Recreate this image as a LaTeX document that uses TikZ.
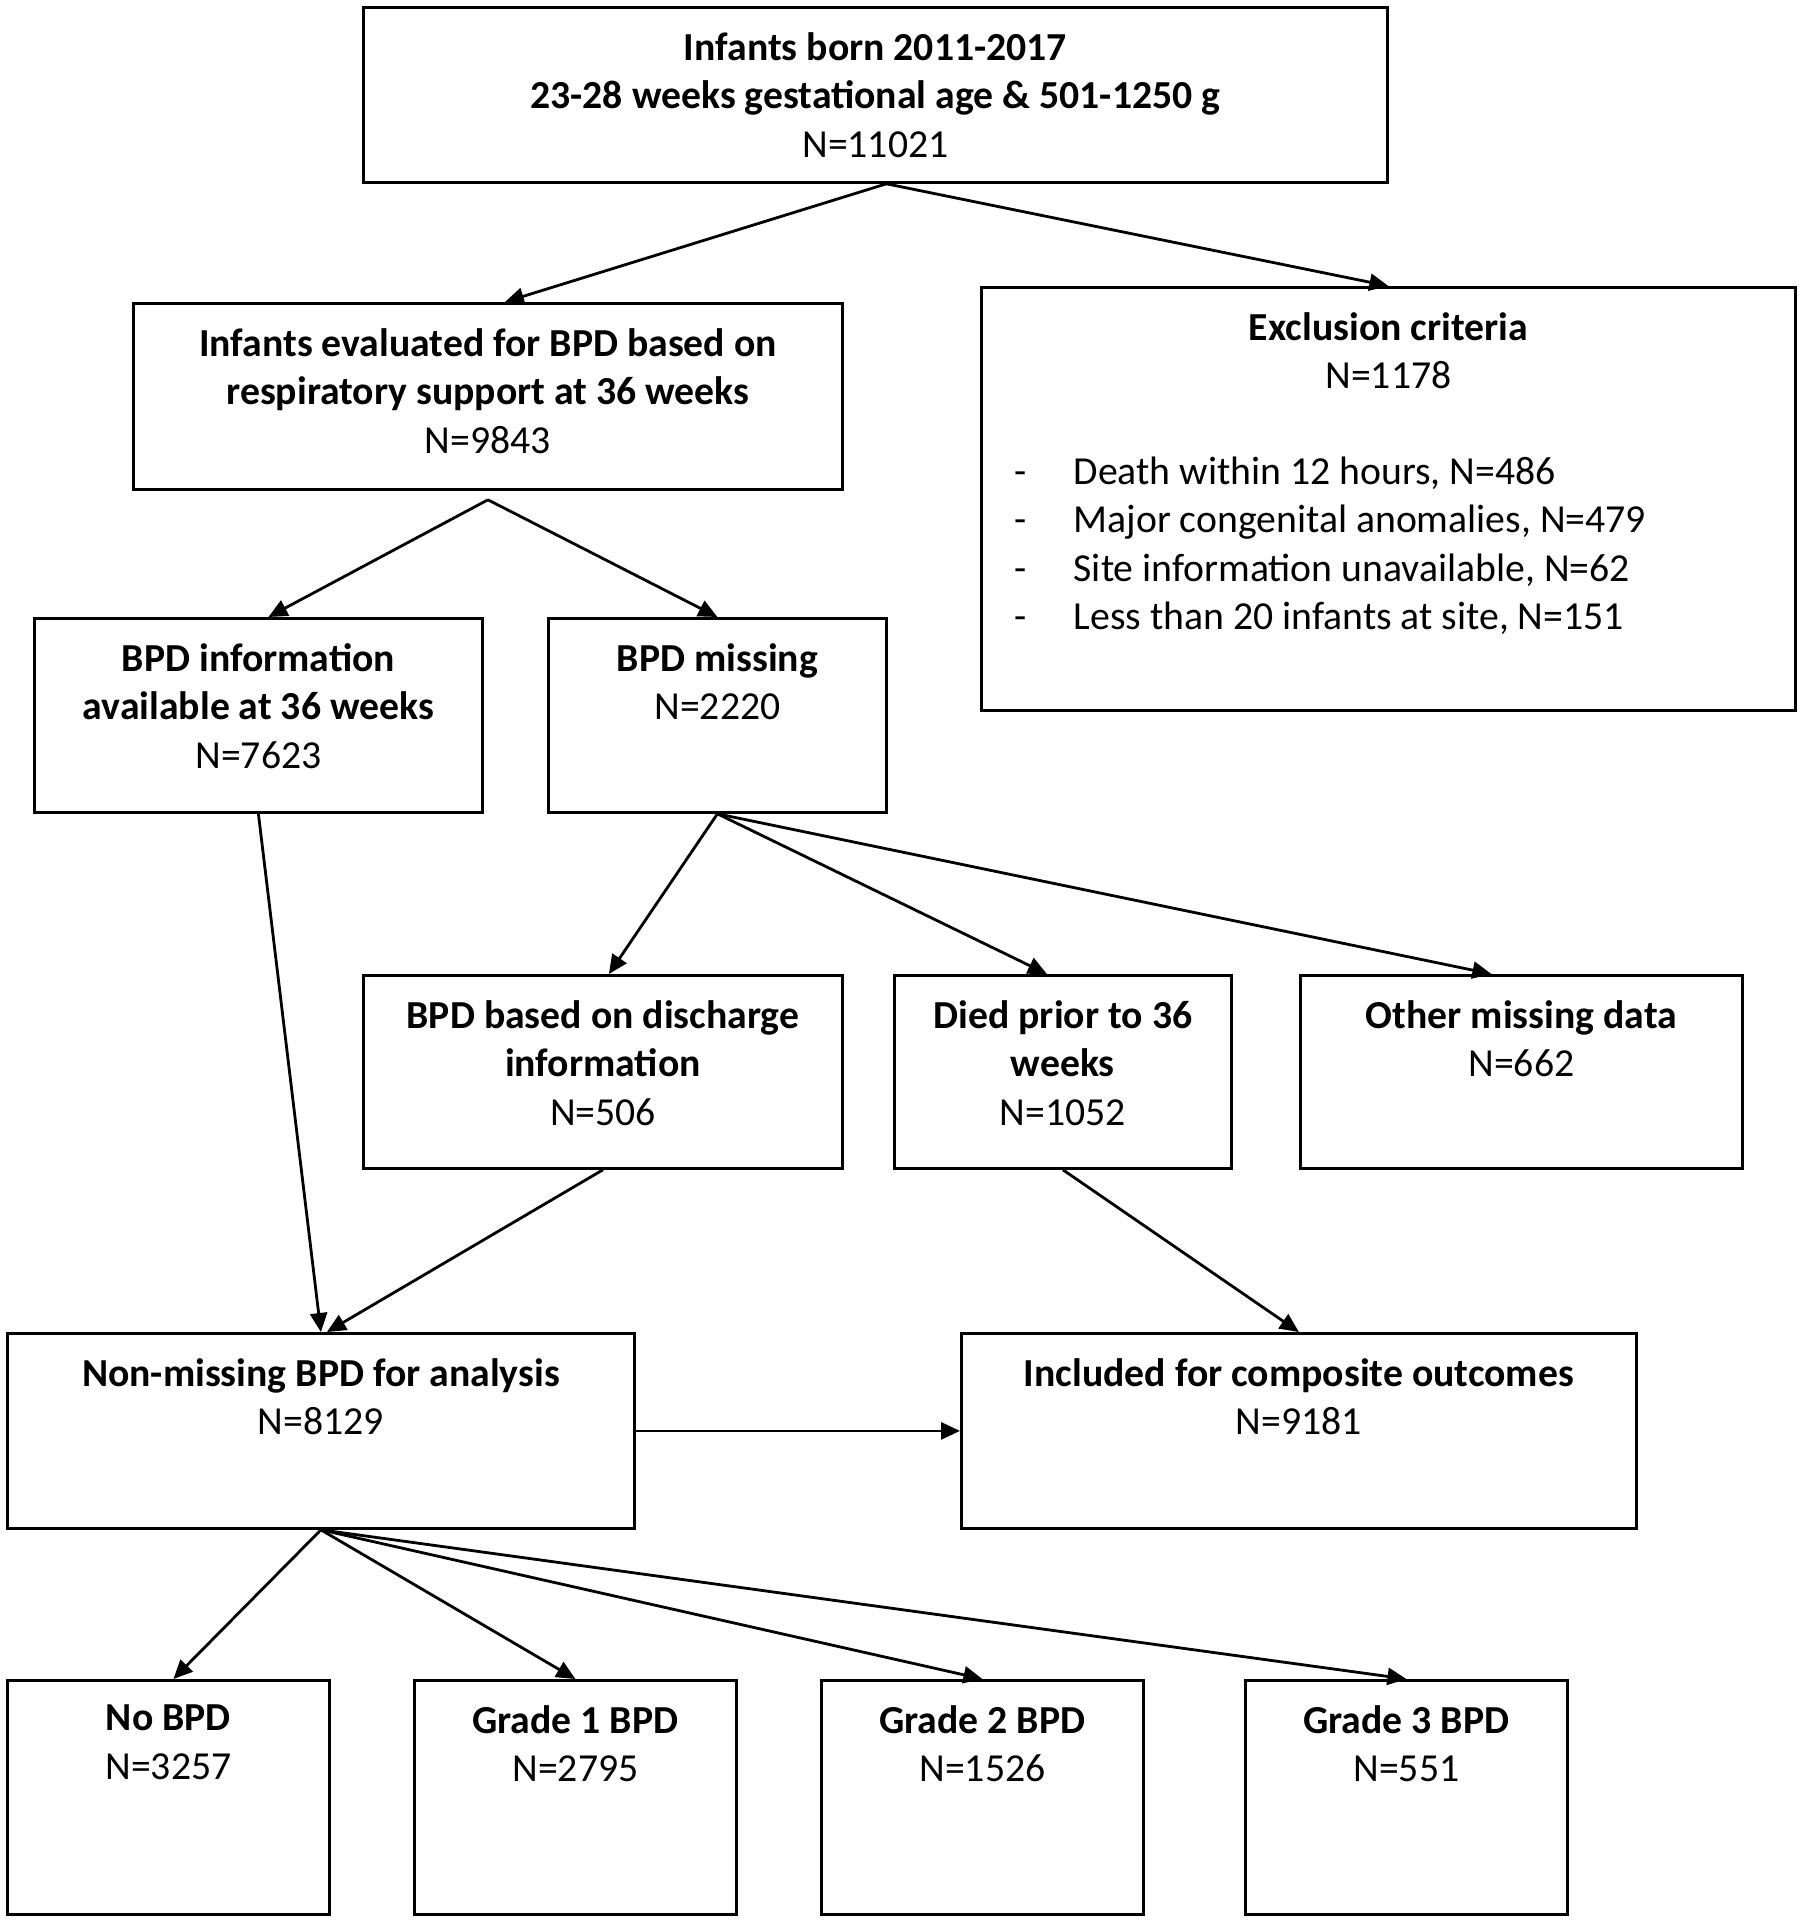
\documentclass[tikz,border=0pt]{standalone}
\usepackage{fontspec}
\setmainfont{Carlito}
\usetikzlibrary{arrows.meta}
\def\dashitem#1{\makebox[0.59cm][l]{-}#1}

\begin{document}
\begin{tikzpicture}[
  box/.style={draw, line width=0.8pt, rectangle, inner sep=0pt, anchor=north west},
  boxtext/.style={anchor=north, align=center, inner sep=0pt, yshift=-0.255cm, font=\fontsize{11.3}{13.8}\selectfont},
  arr/.style={line width=0.8pt, -{Triangle[length=1.9mm, width=1.7mm]}}
]
	%%%%% START %%%%%
	\useasboundingbox (0,0) rectangle (18,-19.23);

	\node[box, minimum width=10.24cm, minimum height=1.75cm] (top) at (3.62,-0.06) {};
	\node[boxtext] (top-t) at (top.north) {\textbf{Infants born 2011-2017}\\\textbf{23-28 weeks gestational age \& 501-1250 g}\\N=11021};

	\node[box, minimum width=7.09cm, minimum height=1.86cm] (eval) at (1.32,-3.02) {};
	\node[boxtext] (eval-t) at (eval.north) {\textbf{Infants evaluated for BPD based on}\\\textbf{respiratory support at 36 weeks}\\N=9843};

	\node[box, minimum width=8.14cm, minimum height=4.23cm] (excl) at (9.80,-2.86) {};
	\node[boxtext] (excl-t) at (excl.north) {\textbf{Exclusion criteria}\\N=1178};
	\node[anchor=north west, align=left, inner sep=0pt, font=\fontsize{11.3}{13.8}\selectfont] (excl-list) at (10.14,-4.56)
		{\dashitem{Death within 12 hours, N=486}\\\dashitem{Major congenital anomalies, N=479}\\\dashitem{Site information unavailable, N=62}\\\dashitem{Less than 20 infants at site, N=151}};

	\node[box, minimum width=4.48cm, minimum height=1.94cm] (avail) at (0.33,-6.17) {};
	\node[boxtext] (avail-t) at (avail.north) {\textbf{BPD information}\\\textbf{available at 36 weeks}\\N=7623};

	\node[box, minimum width=3.38cm, minimum height=1.94cm] (miss) at (5.47,-6.17) {};
	\node[boxtext] (miss-t) at (miss.north) {\textbf{BPD missing}\\N=2220};

	\node[box, minimum width=4.79cm, minimum height=1.93cm] (disch) at (3.62,-9.74) {};
	\node[boxtext] (disch-t) at (disch.north) {\textbf{BPD based on discharge}\\\textbf{information}\\N=506};

	\node[box, minimum width=3.37cm, minimum height=1.93cm] (died) at (8.93,-9.74) {};
	\node[boxtext] (died-t) at (died.north) {\textbf{Died prior to 36}\\\textbf{weeks}\\N=1052};

	\node[box, minimum width=4.42cm, minimum height=1.93cm] (other) at (12.99,-9.74) {};
	\node[boxtext] (other-t) at (other.north) {\textbf{Other missing data}\\N=662};

	\node[box, minimum width=6.27cm, minimum height=1.95cm] (nonmiss) at (0.06,-13.32) {};
	\node[boxtext] (nonmiss-t) at (nonmiss.north) {\textbf{Non-missing BPD for analysis}\\N=8129};

	\node[box, minimum width=6.75cm, minimum height=1.95cm] (incl) at (9.60,-13.32) {};
	\node[boxtext] (incl-t) at (incl.north) {\textbf{Included for composite outcomes}\\N=9181};

	\node[box, minimum width=3.22cm, minimum height=2.34cm] (nobpd) at (0.06,-16.79) {};
	\node[boxtext] (nobpd-t) at (nobpd.north) {\textbf{No BPD}\\N=3257};

	\node[box, minimum width=3.22cm, minimum height=2.34cm] (gr1) at (4.13,-16.79) {};
	\node[boxtext] (gr1-t) at (gr1.north) {\textbf{Grade 1 BPD}\\N=2795};

	\node[box, minimum width=3.22cm, minimum height=2.34cm] (gr2) at (8.20,-16.79) {};
	\node[boxtext] (gr2-t) at (gr2.north) {\textbf{Grade 2 BPD}\\N=1526};

	\node[box, minimum width=3.22cm, minimum height=2.34cm] (gr3) at (12.44,-16.79) {};
	\node[boxtext] (gr3-t) at (gr3.north) {\textbf{Grade 3 BPD}\\N=551};

	%% arrows
	\draw[arr] ([xshift=0.11cm]top.south) -- ([xshift=0.17cm]eval.north);
	\draw[arr] ([xshift=0.11cm]top.south) -- (excl.north);

	\draw[arr] ([yshift=-0.09cm]eval.south) -- ([xshift=0.10cm]avail.north);
	\draw[arr] ([yshift=-0.09cm]eval.south) -- (miss.north);

	\draw[arr] (avail.south) -- (nonmiss.north);

	\draw[arr] (miss.south) -- ([xshift=0.06cm]disch.north);
	\draw[arr] (miss.south) -- ([xshift=-0.16cm]died.north);
	\draw[arr] (miss.south) -- ([xshift=-0.30cm]other.north);

	\draw[arr] (disch.south) -- ([xshift=0.06cm]nonmiss.north);
	\draw[arr] (died.south) -- (incl.north);
	\draw[arr] (nonmiss.east) -- (incl.west);

	\draw[arr] (nonmiss.south) -- ([xshift=0.05cm]nobpd.north);
	\draw[arr] (nonmiss.south) -- (gr1.north);
	\draw[arr] (nonmiss.south) -- (gr2.north);
	\draw[arr] (nonmiss.south) -- (gr3.north);
	%%%%% END %%%%%
\end{tikzpicture}
\end{document}
